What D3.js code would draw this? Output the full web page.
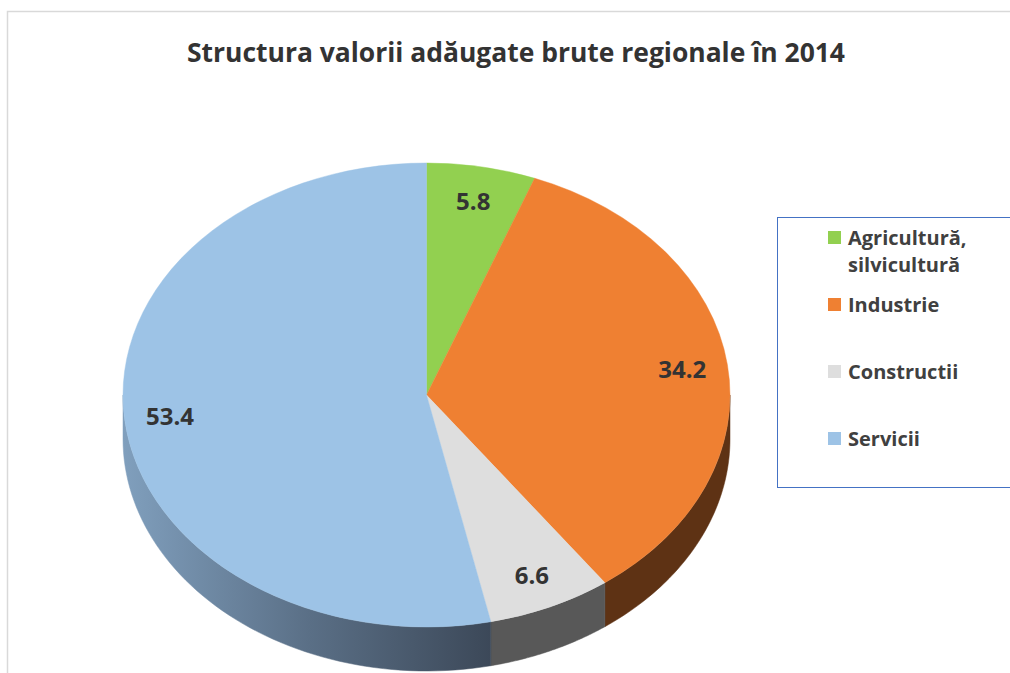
<!DOCTYPE html>
<html>
<head>
<meta charset="utf-8">
<script src="https://cdn.jsdelivr.net/npm/d3@7"></script>
<style>
    body { margin: 0; background: #fff; }
    text { font-family: "Open Sans", "Noto Sans", sans-serif; font-weight: bold; }
</style>
</head>
<body>
<div id="pie_chart"></div>
<script>
var TITLE = "Structura valorii adăugate brute regionale în 2014";
var categories = ["Agricultură, silvicultură", "Industrie", "Constructii", "Servicii"];
var values = [5.8, 34.2, 6.6, 53.4];

var WIDTH = 1010,
    HEIGHT = 673;

var pie = {cx: 426.5, cy: 395, rx: 303.5, ry: 232, depth: 44};

/* colours of the top faces and of the visible sides */
var topColor = d3.scaleOrdinal()
    .domain(categories)
    .range(["#92d050", "#ef8032", "#dedede", "#9dc3e6"]);
var sideColor = d3.scaleOrdinal()
    .domain(categories)
    .range(["#4a6a28", "#5e3214", "#585858", "url(#sideBlue)"]);

var data = categories.map(function(c, i){ return {name: c, value: values[i]}; });

var svg = d3.select("#pie_chart")
    .append("svg")
        .attr("width", WIDTH)
        .attr("height", HEIGHT);

/* gradient for the long shaded side */
var grad = svg.append("defs").append("linearGradient")
    .attr("id", "sideBlue")
    .attr("gradientUnits", "userSpaceOnUse")
    .attr("x1", pie.cx - pie.rx).attr("x2", pie.cx + 70)
    .attr("y1", 0).attr("y2", 0);
grad.append("stop").attr("offset", 0).attr("stop-color", "#809fbd");
grad.append("stop").attr("offset", 0.5).attr("stop-color", "#5a6f86");
grad.append("stop").attr("offset", 1).attr("stop-color", "#3b4757");

/* chart area border (light grey, cut by the page on the right and bottom) */
svg.append("path")
    .attr("d", "M7.5," + HEIGHT + "V11.5H" + WIDTH)
    .attr("fill", "none")
    .attr("stroke", "#d9d9d9")
    .attr("stroke-width", 1.5);

/* Title */
svg.append("text")
    .attr("x", 516)
    .attr("y", 62)
    .attr("text-anchor", "middle")
    .attr("font-size", 26)
    .attr("textLength", 658)
    .attr("lengthAdjust", "spacingAndGlyphs")
    .attr("fill", "#333")
    .text(TITLE);

var arcs = d3.pie()
    .sort(null)
    .value(function(d){ return d.value; })(data);

// point on the top (dy = 0) or bottom (dy = depth) rim, angle clockwise from 12 o'clock
function rim(t, dy){
    return [pie.cx + pie.rx * Math.sin(t), pie.cy - pie.ry * Math.cos(t) + dy];
}

/* Sides - only the front half (3 o'clock to 9 o'clock) is visible */
var sides = svg.append("g").attr("class", "sides");
arcs.forEach(function(a){
    var t0 = Math.max(a.startAngle, Math.PI / 2),
        t1 = Math.min(a.endAngle, Math.PI * 1.5);
    if (t0 >= t1) return;
    var steps = d3.range(0, 61).map(function(k){ return t0 + (t1 - t0) * k / 60; });
    var pts = steps.map(function(t){ return rim(t, 0); })
        .concat(steps.slice().reverse().map(function(t){ return rim(t, pie.depth); }));
    sides.append("path")
        .attr("d", d3.line()(pts) + "Z")
        .attr("fill", sideColor(a.data.name))
        .attr("stroke", sideColor(a.data.name))
        .attr("stroke-width", 0.5);
});

/* Top faces - circular arcs squashed into an ellipse */
var arcGen = d3.arc()
    .innerRadius(0)
    .outerRadius(pie.rx);

svg.append("g")
    .attr("class", "tops")
    .attr("transform", "translate(" + pie.cx + "," + pie.cy + ") scale(1," + (pie.ry / pie.rx) + ")")
    .selectAll("path")
    .data(arcs)
    .enter()
    .append("path")
        .attr("d", arcGen)
        .attr("fill", function(d){ return topColor(d.data.name); })
        .attr("stroke", function(d){ return topColor(d.data.name); })
        .attr("stroke-width", 0.5);

/* Data labels */
var LABEL_POS = 0.85;
svg.append("g")
    .attr("class", "labels")
    .selectAll("text")
    .data(arcs)
    .enter()
    .append("text")
        .attr("x", function(d){
            var t = (d.startAngle + d.endAngle) / 2;
            return pie.cx + pie.rx * LABEL_POS * Math.sin(t);
        })
        .attr("y", function(d){
            var t = (d.startAngle + d.endAngle) / 2;
            return pie.cy - pie.ry * LABEL_POS * Math.cos(t) + 9;
        })
        .attr("text-anchor", "middle")
        .attr("font-size", 24)
        .attr("fill", "#333")
        .text(function(d){ return d3.format(".1f")(d.data.value); });

/* Legend */
var legend = svg.append("g").attr("class", "legend");
legend.append("rect")
    .attr("x", 777.5)
    .attr("y", 217.5)
    .attr("width", 260)
    .attr("height", 270)
    .attr("fill", "#fff")
    .attr("stroke", "#4472c4")
    .attr("stroke-width", 1);

var ly = d3.scalePoint()
    .domain(categories)
    .range([237.5, 438.5]);

var items = legend.selectAll(".item")
    .data(categories)
    .enter()
    .append("g")
        .attr("class", "item")
        .attr("transform", function(d){ return "translate(828," + ly(d) + ")"; });

items.append("rect")
    .attr("x", 0)
    .attr("y", -6.5)
    .attr("width", 13)
    .attr("height", 13)
    .attr("fill", function(d){ return topColor(d); });

items.append("text")
    .attr("x", 20)
    .attr("y", 7.5)
    .attr("font-size", 20)
    .attr("fill", "#404040")
    .selectAll("tspan")
    .data(function(d){ return d.split(/(?<=,)\s/); })
    .enter()
    .append("tspan")
        .attr("x", 20)
        .attr("dy", function(d, i){ return i ? 27 : 0; })
        .text(function(d){ return d; });
</script>
</body>
</html>
